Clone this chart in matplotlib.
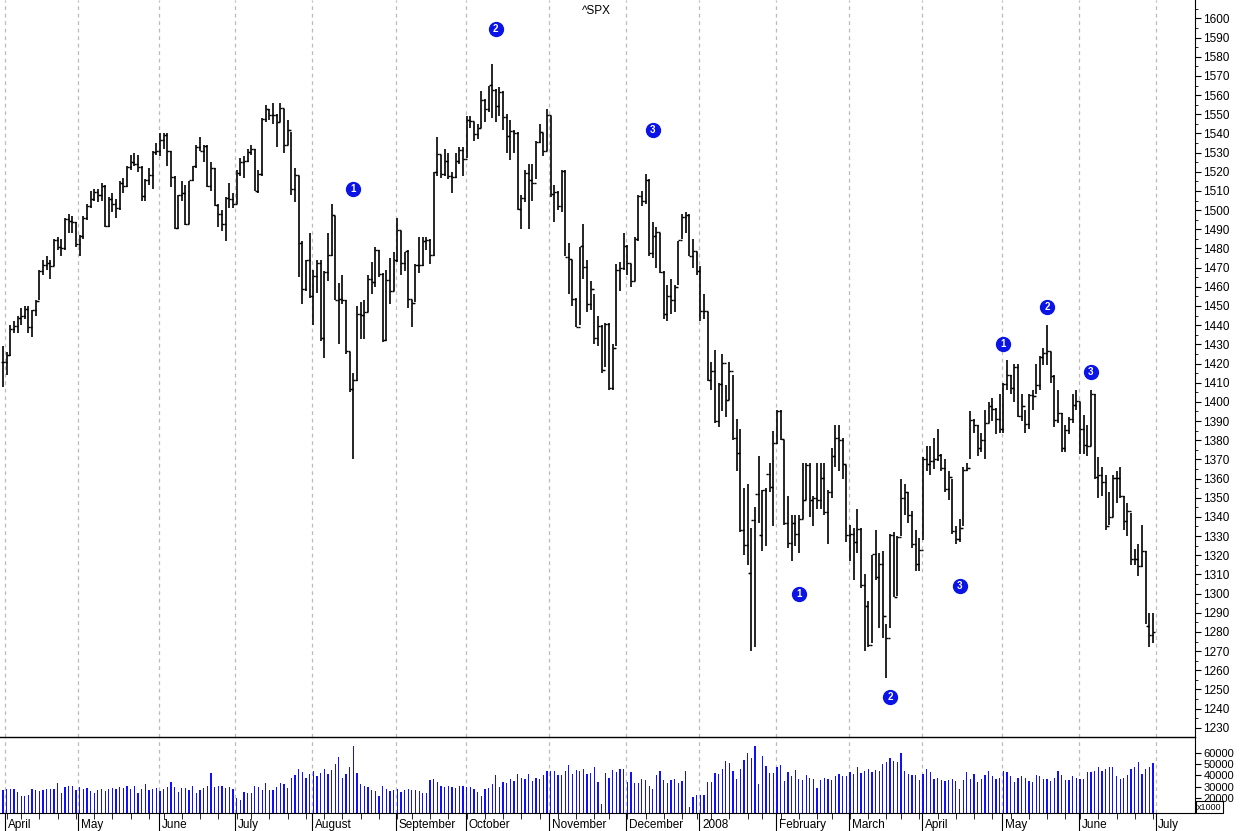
import numpy as np
import pandas as pd
import matplotlib
matplotlib.use("Agg")
import matplotlib.pyplot as plt
import matplotlib.transforms as mtrans
from matplotlib.ticker import MultipleLocator, FixedLocator

plt.rcParams['font.family'] = ['Liberation Sans', 'DejaVu Sans']

# trading calendar 2007-03-30 .. 2008-06-30
holidays = ['2007-04-06', '2007-05-28', '2007-07-04', '2007-09-03', '2007-11-22',
            '2007-12-25', '2008-01-01', '2008-01-21', '2008-02-18', '2008-03-21',
            '2008-05-26']

# daily close, high, low (month by month)
close = [1420.86,
    1424.55,1437.77,1439.37,1443.76,1444.61,1448.39,1438.87,1447.80,1452.85,1468.33,1471.48,1472.50,1470.73,1484.35,1480.93,1480.41,1495.42,1494.25,1494.07,1482.37,
    1486.30,1495.92,1502.39,1505.62,1509.48,1507.72,1512.58,1491.47,1505.85,1503.15,1501.19,1514.14,1512.75,1522.75,1525.10,1524.12,1522.28,1507.51,1515.73,1518.11,1530.23,1530.62,
    1536.34,1539.18,1530.95,1517.38,1490.72,1507.67,1509.12,1493.00,1515.67,1522.97,1532.91,1531.05,1533.70,1512.84,1522.19,1502.56,1497.74,1492.89,1506.34,1505.71,1503.35,
    1519.43,1524.87,1525.40,1530.44,1531.85,1510.12,1518.76,1547.70,1552.50,1549.52,1549.37,1546.17,1553.08,1534.10,1541.57,1511.04,1518.09,1482.66,1458.95,1473.91,1455.27,
    1465.81,1472.20,1433.06,1467.67,1476.71,1497.49,1453.09,1453.64,1452.92,1426.54,1406.70,1411.27,1445.94,1445.55,1447.12,1464.07,1462.50,1479.37,1466.79,1432.36,1463.76,1457.64,1473.99,
    1489.42,1472.29,1478.55,1453.55,1451.70,1471.49,1471.56,1483.95,1484.25,1476.65,1519.78,1529.03,1518.75,1525.75,1517.73,1517.21,1525.42,1531.38,1526.75,
    1547.04,1546.63,1539.59,1542.84,1557.59,1552.58,1565.15,1562.47,1554.41,1561.80,1548.71,1538.53,1541.24,1540.08,1500.63,1506.33,1519.59,1515.88,1514.40,1535.28,1540.98,1531.02,1549.38,
    1508.44,1509.65,1502.17,1520.27,1475.62,1474.77,1453.70,1439.18,1481.05,1470.58,1451.15,1458.74,1433.27,1439.70,1416.77,1440.70,1407.22,1428.23,1469.02,1469.72,1481.14,
    1472.42,1462.79,1485.01,1507.34,1504.66,1515.96,1477.65,1486.59,1488.41,1467.95,1445.90,1454.98,1453.00,1460.12,1484.46,1496.45,1497.66,1476.27,1478.49,1468.36,
    1447.16,1447.16,1411.63,1416.18,1390.19,1409.13,1420.33,1401.02,1416.25,1380.95,1373.20,1333.25,1325.19,1310.50,1338.60,1352.07,1330.61,1353.96,1362.30,1355.81,1378.55,
    1395.42,1380.82,1336.64,1326.45,1336.91,1331.29,1339.13,1348.86,1367.21,1348.86,1349.99,1348.78,1360.03,1342.53,1353.11,1371.80,1381.29,1380.02,1367.68,1330.63,
    1331.34,1326.75,1333.70,1304.34,1293.37,1273.37,1320.65,1308.77,1315.48,1288.14,1276.60,1330.74,1298.42,1329.51,1349.88,1352.99,1341.13,1325.76,1315.22,1322.70,
    1370.18,1367.53,1369.31,1370.40,1372.54,1365.54,1354.49,1360.55,1332.83,1328.32,1334.43,1364.71,1365.56,1390.33,1388.17,1375.94,1379.93,1388.82,1397.84,1396.37,1390.94,1385.59,
    1409.34,1413.90,1407.49,1418.26,1392.57,1397.68,1388.28,1403.58,1403.04,1408.66,1423.57,1425.35,1426.63,1413.40,1390.71,1394.35,1375.93,1385.35,1390.84,1398.26,1400.38,
    1385.67,1377.65,1377.20,1404.05,1360.68,1361.76,1358.44,1335.49,1339.87,1360.03,1360.14,1350.93,1337.81,1342.83,1317.93,1318.00,1314.29,1321.97,1283.15,1278.38,1280.00]

high = [1429,
    1426,1440,1442,1445,1449,1450,1450,1448,1453,1469,1474,1476,1474,1485,1486,1485,1496,1498,1497,1494,
    1487,1497,1503,1510,1511,1511,1514,1513,1507,1509,1506,1515,1517,1523,1529,1530,1529,1523,1516,1522,1531,1535,
    1540,1540,1540,1531,1518,1508,1515,1513,1515,1523,1534,1538,1534,1534,1525,1522,1503,1500,1507,1514,1509,
    1521,1527,1528,1532,1534,1532,1521,1548,1555,1553,1556,1550,1556,1553,1547,1541,1522,1518,1484,1474,1488,
    1469,1474,1474,1468,1488,1503,1497,1462,1466,1453,1426,1415,1450,1452,1453,1466,1473,1481,1479,1467,1469,1475,1478,
    1496,1489,1478,1479,1453,1472,1486,1486,1486,1485,1520,1538,1529,1532,1530,1520,1530,1533,1533,
    1549,1549,1546,1545,1562,1558,1565,1576,1563,1564,1562,1550,1547,1542,1541,1508,1521,1524,1524,1536,1545,1540,1553,
    1549,1513,1510,1521,1521,1483,1474,1454,1481,1493,1474,1463,1456,1445,1440,1441,1441,1430,1472,1473,1488,
    1482,1472,1486,1508,1510,1519,1516,1494,1491,1488,1468,1461,1464,1461,1484,1498,1499,1498,1485,1478,
    1471,1456,1447,1421,1427,1410,1425,1409,1421,1414,1391,1386,1355,1357,1334,1345,1372,1354,1355,1368,1385,
    1396,1396,1380,1351,1341,1341,1341,1368,1368,1368,1351,1368,1368,1368,1354,1376,1388,1388,1381,1367,
    1336,1334,1344,1334,1310,1296,1320,1333,1321,1322,1284,1331,1332,1330,1360,1357,1353,1343,1333,1329,
    1371,1377,1377,1381,1386,1373,1370,1364,1360,1335,1339,1366,1368,1395,1391,1388,1384,1396,1400,1402,1397,1404,
    1410,1422,1414,1420,1420,1404,1396,1404,1406,1420,1424,1428,1440,1426,1414,1406,1394,1388,1392,1404,1406,
    1400,1393,1388,1406,1404,1371,1366,1362,1353,1362,1364,1366,1351,1347,1342,1323,1326,1336,1322,1290,1290]

low = [1408,
    1414,1424,1436,1436,1440,1443,1436,1434,1445,1453,1466,1469,1464,1471,1479,1476,1479,1488,1488,1481,
    1476,1485,1495,1501,1505,1504,1505,1491,1491,1499,1496,1500,1509,1512,1521,1523,1520,1505,1505,1513,1511,1529,
    1528,1532,1523,1512,1490,1490,1505,1492,1493,1515,1522,1531,1525,1512,1510,1502,1491,1489,1484,1501,1501,
    1503,1518,1517,1525,1529,1510,1509,1518,1546,1547,1545,1533,1546,1530,1534,1508,1504,1465,1451,1458,1454,
    1440,1457,1432,1423,1463,1476,1453,1430,1451,1425,1405,1370,1411,1433,1433,1447,1456,1460,1465,1431,1432,1451,1458,
    1473,1466,1468,1449,1439,1452,1467,1471,1479,1472,1476,1518,1517,1518,1516,1509,1517,1524,1518,
    1527,1543,1536,1537,1543,1546,1551,1548,1546,1549,1542,1530,1526,1530,1500,1490,1504,1490,1505,1516,1535,1528,1531,
    1507,1494,1500,1499,1476,1456,1450,1439,1440,1464,1447,1448,1430,1429,1415,1418,1406,1406,1429,1458,1469,
    1466,1460,1463,1484,1502,1503,1476,1475,1470,1467,1443,1442,1446,1447,1461,1485,1488,1476,1470,1466,
    1442,1443,1411,1406,1389,1387,1395,1392,1401,1380,1364,1332,1320,1315,1270,1272,1337,1322,1325,1353,1335,
    1378,1380,1336,1324,1317,1325,1321,1339,1349,1340,1335,1344,1344,1341,1326,1350,1366,1364,1360,1327,
    1317,1307,1321,1303,1270,1272,1274,1307,1282,1277,1256,1282,1298,1299,1330,1341,1337,1324,1312,1312,
    1328,1364,1362,1365,1369,1364,1353,1349,1331,1326,1327,1335,1364,1370,1384,1372,1374,1370,1389,1390,1383,1384,
    1384,1406,1404,1400,1392,1390,1384,1386,1396,1404,1406,1419,1419,1410,1387,1389,1374,1374,1383,1389,1396,
    1373,1373,1372,1377,1360,1350,1351,1333,1336,1340,1347,1350,1333,1330,1315,1315,1309,1314,1284,1272,1274]

# daily volume (x1000)
volume = [27000,
    28000,28000,28000,25000,22000,22000,23000,28000,27000,26000,27000,28000,28000,28000,33000,24000,30000,31000,31000,27000,
    30000,28000,29000,26000,24000,27000,28000,26000,28000,29000,28000,30000,29000,31000,28000,31000,24000,28000,32000,27000,28000,29000,
    26000,28000,30000,34000,30000,25000,29000,29000,27000,31000,24000,27000,29000,31000,42000,30000,31000,31000,29000,30000,28000,
    20000,18000,25000,24000,24000,31000,30000,27000,33000,27000,27000,30000,33000,32000,29000,38000,40000,46000,43000,38000,41000,
    44000,39000,42000,46000,41000,45000,50000,56000,38000,41000,47000,66000,42000,32000,31000,30000,27000,26000,22000,31000,28000,26000,27000,
    28000,25000,27000,28000,27000,27000,26000,24000,24000,36000,37000,34000,31000,30000,31000,30000,29000,31000,31000,
    30000,30000,28000,25000,22000,28000,29000,32000,40000,30000,34000,33000,37000,35000,41000,38000,37000,41000,35000,38000,37000,40000,44000,
    44000,44000,40000,40000,44000,49000,41000,45000,44000,46000,41000,42000,47000,34000,15000,42000,38000,45000,43000,46000,46000,
    34000,43000,33000,33000,37000,36000,31000,28000,40000,44000,36000,33000,36000,37000,33000,35000,44000,12000,21000,23000,
    23000,23000,34000,34000,42000,41000,46000,53000,51000,44000,37000,46000,54000,60000,55000,66000,32000,57000,48000,42000,42000,
    47000,49000,35000,43000,39000,45000,37000,36000,40000,38000,37000,29000,36000,38000,37000,36000,39000,41000,39000,39000,
    43000,41000,47000,42000,44000,46000,43000,45000,44000,50000,52000,55000,53000,52000,60000,44000,41000,40000,40000,36000,
    41000,46000,43000,37000,38000,36000,35000,36000,37000,35000,28000,36000,43000,37000,41000,34000,37000,40000,44000,39000,37000,38000,
    44000,43000,39000,34000,38000,39000,38000,35000,34000,40000,39000,37000,37000,35000,38000,44000,40000,36000,36000,39000,38000,
    37000,37000,43000,43000,44000,47000,44000,46000,47000,47000,39000,37000,38000,40000,46000,47000,52000,41000,46000,47000,51000]

# wave markers: trading-day index, price, label
wave_idx = [96, 135, 178, 218, 243, 262, 274, 286, 298]
wave_px = [1511, 1594.5, 1542, 1300, 1246, 1304, 1430, 1449.5, 1415.6]
wave_lbl = ['1', '2', '3', '1', '2', '3', '1', '2', '3']

month_names = ['April', 'May', 'June', 'July', 'August', 'September', 'October',
               'November', 'December', '2008', 'February', 'March', 'April',
               'May', 'June', 'July']

days = pd.bdate_range('2007-03-30', '2008-07-01')
days = days[~days.isin(pd.to_datetime(holidays))]
n = len(close)
x = np.arange(len(days))

fig = plt.figure(figsize=(12.42, 8.31), dpi=100)
W, H = 1242, 831
ax = fig.add_axes([0, 1 - 737 / H, 1195 / W, 737 / H])
axv = fig.add_axes([0, 1 - 813 / H, 1195 / W, 76 / H], sharex=ax)

xi = x[:n]
opn = np.r_[close[0], close[:-1]]
ax.vlines(xi, low, high, color='black', lw=1.2)
ax.hlines(opn, xi - 0.55, xi, color='black', lw=1.0)
ax.hlines(close, xi, xi + 0.55, color='black', lw=1.0)

for i, p, t in zip(wave_idx, wave_px, wave_lbl):
    ax.plot(i, p, 'o', ms=10, color='#0a14e6', zorder=5)
    ax.text(i, p, t, color='white', fontsize=7, fontweight='bold', ha='center', va='center', zorder=6)

axv.bar(xi, volume, width=0.35, color='#1010ff')

# month boundaries
starts = [i for i in range(1, len(days)) if days[i].month != days[i - 1].month]
for a in (ax, axv):
    for s in starts:
        a.axvline(s - 0.3, color='#bbbbbb', ls=(0, (3, 3)), lw=0.9, zorder=0)

ax.set_xlim(-0.8, 326.5)
ax.set_ylim(1225.2, 1609.6)
axv.set_ylim(6700, 73900)

for a in (ax, axv):
    a.yaxis.tick_right()
    a.spines['left'].set_visible(False)
    a.tick_params(axis='y', direction='out', length=4, labelsize=8.5, pad=2)
ax.spines['top'].set_visible(False)
ax.spines['bottom'].set_visible(False)
axv.spines['top'].set_linewidth(1.0)
ax.yaxis.set_major_locator(MultipleLocator(10))
ax.yaxis.set_minor_locator(MultipleLocator(5))
ax.tick_params(axis='y', which='minor', length=2)
ax.tick_params(axis='x', bottom=False, labelbottom=False)

axv.yaxis.set_major_locator(FixedLocator([20000, 30000, 40000, 50000, 60000]))
axv.yaxis.set_minor_locator(FixedLocator([10000]))
axv.tick_params(axis='y', which='minor', length=4)
axv.tick_params(axis='y', labelsize=8)
axv.set_yticklabels(['20000', '30000', '40000', '50000', '60000'])
fig.text(1197 / W, 1 - 807 / H, 'x1000', fontsize=6.5, va='center', ha='left', zorder=10,
         bbox=dict(boxstyle='square,pad=0.15', fc='white', ec='black', lw=0.8))

mondays = [i for i in range(1, len(days)) if days[i].weekday() < days[i - 1].weekday()]
axv.xaxis.set_major_locator(FixedLocator([s - 0.3 for s in starts]))
axv.xaxis.set_minor_locator(FixedLocator(mondays))
axv.set_xticklabels(month_names[:len(starts)])
axv.tick_params(axis='x', which='major', length=16, labelsize=8.5, pad=-12, direction='out')
axv.tick_params(axis='x', which='minor', length=4)
off = mtrans.ScaledTranslation(2 / 72, 0, fig.dpi_scale_trans)
for lbl in axv.get_xticklabels():
    lbl.set_horizontalalignment('left')
    lbl.set_transform(lbl.get_transform() + off)

fig.text(596 / W, 1 - 11 / H, '^SPX', fontsize=8.5, ha='center', va='center')

fig.savefig('out.png', dpi=100)
